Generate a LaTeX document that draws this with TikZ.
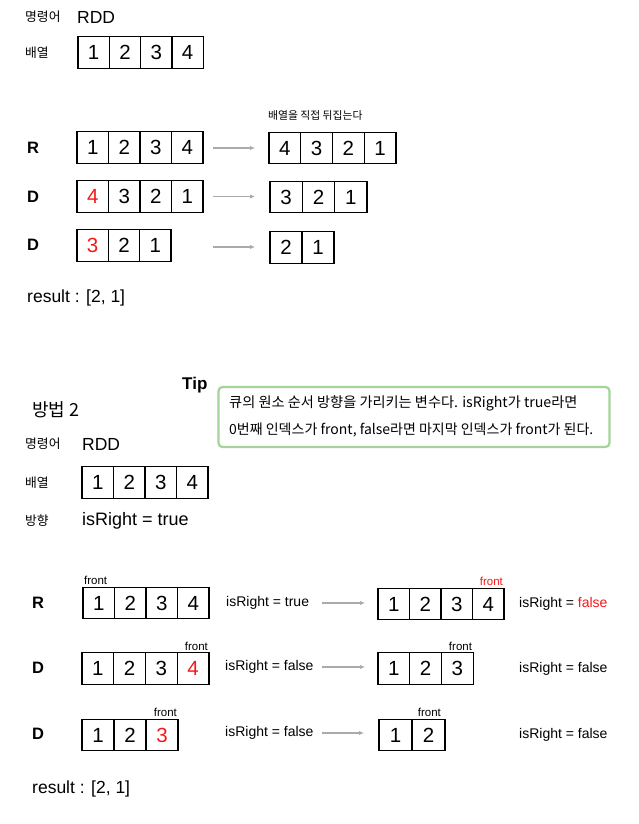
\documentclass[tikz,border=0pt]{standalone}
\usepackage{fontspec}
\setmainfont{Liberation Sans}
\newfontfamily\kr{Noto Sans CJK KR}
\usetikzlibrary{arrows.meta}
\definecolor{hlred}{RGB}{245,25,25}
\definecolor{arrgray}{RGB}{170,170,170}
\definecolor{tipgreen}{RGB}{165,212,155}
\newcommand{\fs}[1]{\fontsize{#1}{#1}\selectfont}
\newcommand{\mkarr}[5]{%
  \foreach \v [count=\i] in {#5}
    \node[cell, minimum width=#4pt] (#1-\i) at ({#2+(\i-0.5)*#4}, #3) {\v};}
\begin{document}
\begin{tikzpicture}[x=1pt,y=-1pt,
  cell/.style={draw, line width=1.2pt, minimum height=31.5pt, inner sep=0pt, font=\fs{20.5}},
  krlab/.style={anchor=west, inner sep=0pt, font=\kr\fs{12.8}},
  oplab/.style={anchor=west, inner sep=0pt, font=\bfseries\fs{16.5}},
  big/.style={anchor=west, inner sep=0pt, font=\fs{17.5}},
  eqlab/.style={anchor=west, inner sep=0pt, font=\fs{14}},
  frontlab/.style={inner sep=1.5pt, font=\fs{11.5}},
  flow/.style={draw=arrgray, line width=1.4pt, -{Latex[length=5pt,width=4.5pt]}},
  tipbox/.style={draw=tipgreen, line width=2.2pt, rounded corners=4pt, fill=white}]
\useasboundingbox (0,0) rectangle (638,824);
\fill[white] (0,0) rectangle (638,824);

% ---------- section 1 ----------
\node[krlab] (cmd1) at (25,17) {명령어};
\node[big] (rdd1) at (77,17) {RDD};
\node[krlab] (arrlab1) at (25,52.5) {배열};
\mkarr{a0}{78}{52.5}{31.3}{1,2,3,4}

\node[anchor=west, inner sep=0pt, font=\kr\fs{10.8}] (note) at (268,115) {배열을 직접 뒤집는다};

\node[oplab] (op1) at (27,148) {R};
\mkarr{r1}{77}{147.5}{31.5}{1,2,3,4}
\mkarr{r1o}{269}{148}{31.75}{4,3,2,1}
\coordinate (r1s) at (213,148);
\coordinate (r1e) at (255,148);
\draw[flow] (r1s) -- (r1e);

\node[oplab] (op2) at (27,197) {D};
\mkarr{d1}{77}{196.5}{31.5}{{\textcolor{hlred}{4}},3,2,1}
\mkarr{d1o}{270}{197}{32.3}{3,2,1}
\coordinate (d1s) at (213,196.5);
\coordinate (d1e) at (255,196.5);
\draw[flow] (d1s) -- (d1e);

\node[oplab] (op3) at (27,245) {D};
\mkarr{d2}{77}{245.5}{31.3}{{\textcolor{hlred}{3}},2,1}
\mkarr{d2o}{270}{247.5}{32}{2,1}
\coordinate (d2s) at (213,247);
\coordinate (d2e) at (255,247);
\draw[flow] (d2s) -- (d2e);

\node[big] (res1) at (27,298) {result : [2, 1]};

% ---------- section 2 ----------
\node[anchor=west, inner sep=0pt, font=\bfseries\fs{17}] (tip) at (182,385) {Tip};
\node[tipbox, minimum width=391pt, minimum height=60pt] (tipb) at (414,417) {};
\node[anchor=west, inner sep=0pt, font=\kr\fs{14.2}] (tip1) at (229,403)
  {큐의 원소 순서 방향을 가리키는 변수다. isRight가 true라면};
\node[anchor=west, inner sep=0pt, font=\kr\fs{14}] (tip2) at (229,430)
  {0번째 인덱스가 front, false라면 마지막 인덱스가 front가 된다.};

\node[anchor=west, inner sep=0pt, font=\kr\fs{18}] (m2) at (32,410) {방법 2};
\node[krlab] (cmd2) at (25,444) {명령어};
\node[big] (rdd2) at (82,444) {RDD};
\node[krlab] (arrlab2) at (25,482.5) {배열};
\mkarr{b0}{82}{482.5}{31.5}{1,2,3,4}
\node[krlab] (dirlab) at (25,521) {방향};
\node[anchor=west, inner sep=0pt, font=\fs{18}] (dir) at (82,521) {isRight = true};

% R
\node[oplab] (op4) at (32,603) {R};
\mkarr{s1}{83}{603}{31.5}{1,2,3,4}
\node[frontlab, anchor=south west] (f1) at (s1-1.north west) {front};
\node[eqlab] (e1) at (226,603) {isRight = true};
\coordinate (s1s) at (322,603);
\coordinate (s1e) at (365,603);
\draw[flow] (s1s) -- (s1e);
\mkarr{s1o}{378}{604}{31.5}{1,2,3,4}
\node[frontlab, anchor=south east, text=hlred] (f1o) at (s1o-4.north east) {front};
\node[eqlab] (e1o) at (519,604) {isRight = \textcolor{hlred}{false}};

% D
\node[oplab] (op5) at (32,668) {D};
\mkarr{s2}{82}{668.5}{31.75}{1,2,3,{\textcolor{hlred}{4}}}
\node[frontlab, anchor=south east] (f2) at (s2-4.north east) {front};
\node[eqlab] (e2) at (225,667) {isRight = false};
\coordinate (s2s) at (322,667);
\coordinate (s2e) at (365,667);
\draw[flow] (s2s) -- (s2e);
\mkarr{s2o}{378}{668.5}{31.7}{1,2,3}
\node[frontlab, anchor=south east] (f2o) at (s2o-3.north east) {front};
\node[eqlab] (e2o) at (519,669) {isRight = false};

% D
\node[oplab] (op6) at (32,734) {D};
\mkarr{s3}{82}{735}{32}{1,2,{\textcolor{hlred}{3}}}
\node[frontlab, anchor=south east] (f3) at (s3-3.north east) {front};
\node[eqlab] (e3) at (225,733) {isRight = false};
\coordinate (s3s) at (322,733);
\coordinate (s3e) at (364,733);
\draw[flow] (s3s) -- (s3e);
\mkarr{s3o}{379}{735}{33}{1,2}
\node[frontlab, anchor=south east] (f3o) at ([xshift=-3pt]s3o-2.north east) {front};
\node[eqlab] (e3o) at (519,735) {isRight = false};

\node[big] (res2) at (32,789) {result : [2, 1]};
\end{tikzpicture}
\end{document}
